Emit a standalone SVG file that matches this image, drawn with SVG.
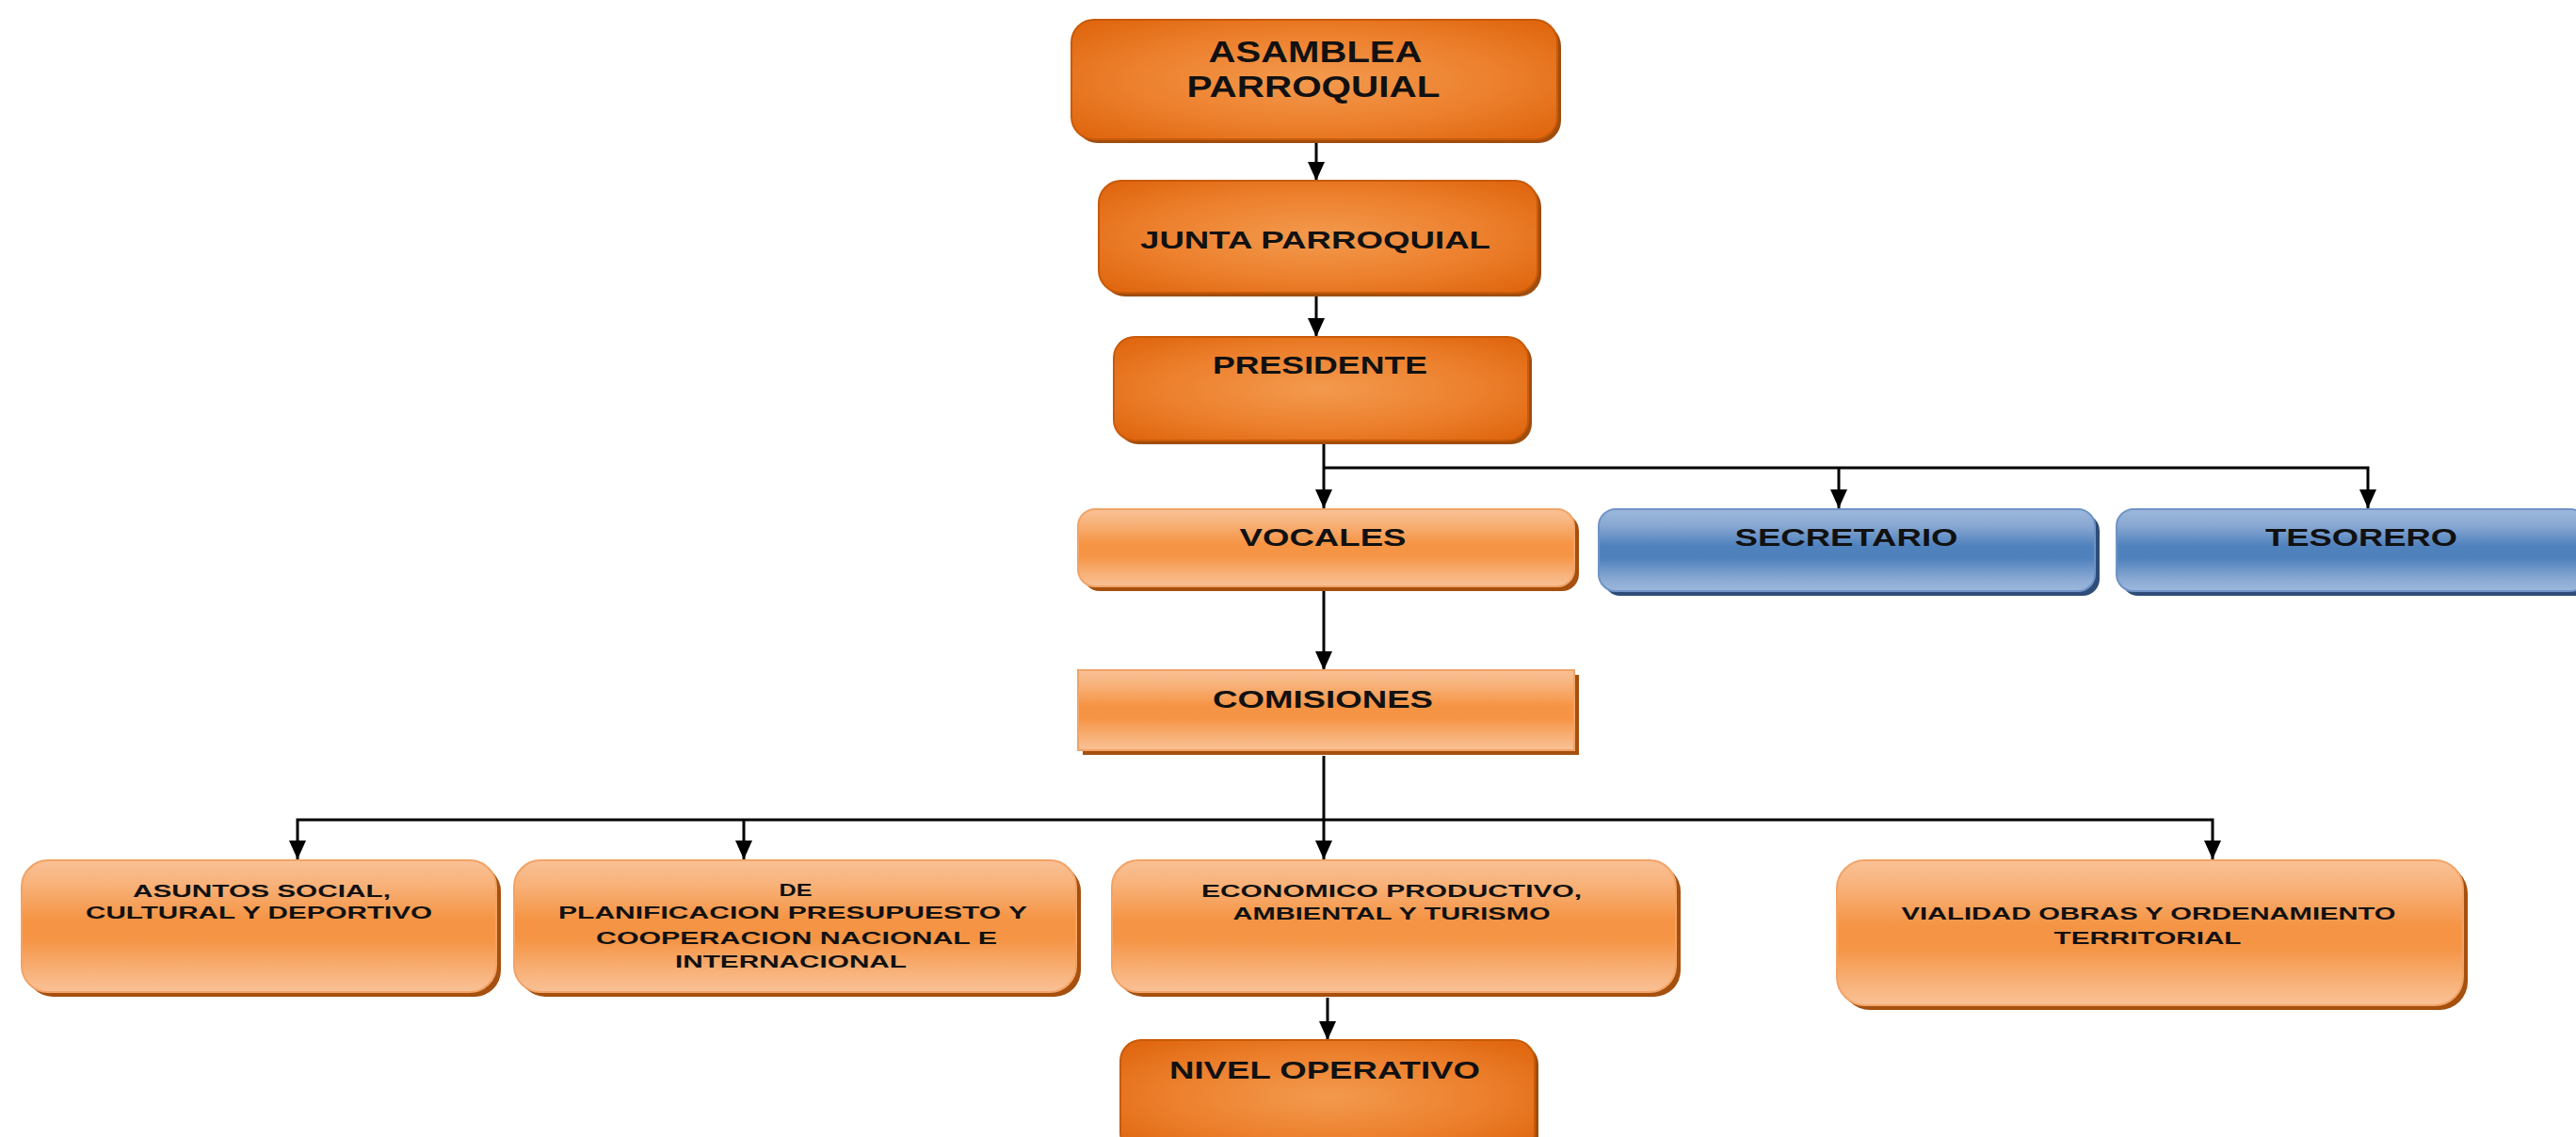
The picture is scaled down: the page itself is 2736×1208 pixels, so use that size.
<svg xmlns="http://www.w3.org/2000/svg" width="2736" height="1208" viewBox="0 0 2736 1208">
<defs>
<radialGradient id="gDark" cx="50%" cy="50%" r="65%">
<stop offset="0" stop-color="#F39A4E"/>
<stop offset="0.6" stop-color="#EC7F2C"/>
<stop offset="1" stop-color="#E06710"/>
</radialGradient>
<linearGradient id="gLight" x1="0" y1="0" x2="0" y2="1">
<stop offset="0" stop-color="#F9C196"/>
<stop offset="0.18" stop-color="#F8B27A"/>
<stop offset="0.45" stop-color="#F59444"/>
<stop offset="0.6" stop-color="#F59444"/>
<stop offset="0.85" stop-color="#F8B27A"/>
<stop offset="1" stop-color="#F9C196"/>
</linearGradient>
<linearGradient id="gBlue" x1="0" y1="0" x2="0" y2="1">
<stop offset="0" stop-color="#9DB8DB"/>
<stop offset="0.2" stop-color="#89A8D2"/>
<stop offset="0.45" stop-color="#4F81BD"/>
<stop offset="0.6" stop-color="#4F81BD"/>
<stop offset="0.85" stop-color="#89A8D2"/>
<stop offset="1" stop-color="#9DB8DB"/>
</linearGradient>
<marker id="arr" viewBox="0 0 20 18" refX="20" refY="9" markerWidth="20" markerHeight="18" markerUnits="userSpaceOnUse" orient="auto">
<path d="M0,0 L20,9 L0,18 Z" fill="#000"/>
</marker>
</defs>
<style>
.dark{fill:url(#gDark);stroke:#C85A08;stroke-width:2}
.light{fill:url(#gLight);stroke:#F2A366;stroke-width:2}
.blue{fill:url(#gBlue);stroke:#6E93C6;stroke-width:2}
.shD{fill:#A04D0E}
.shL{fill:#A5500F}
.shB{fill:#2E4C78}
text{font-family:"Liberation Sans",Arial,sans-serif;font-weight:bold;fill:#111;text-anchor:middle}
.big{font-size:32px}
.mid{font-size:25px}
.sm{font-size:19px}
.conn{fill:none;stroke:#000;stroke-width:3}
</style>
<rect width="2736" height="1208" fill="#fff"/>

<g id="connectors">
<path class="conn" d="M1398,148 V192" marker-end="url(#arr)"/>
<path class="conn" d="M1398,311 V358" marker-end="url(#arr)"/>
<path class="conn" d="M1406,470 V540" marker-end="url(#arr)"/>
<path class="conn" d="M1406,497 H2515 V540" marker-end="url(#arr)"/>
<path class="conn" d="M1953,497 V540" marker-end="url(#arr)"/>
<path class="conn" d="M1406,625 V712" marker-end="url(#arr)"/>
<path class="conn" d="M1406,803 V913" marker-end="url(#arr)"/>
<path class="conn" d="M1406,871 H2350 V913" marker-end="url(#arr)"/>
<path class="conn" d="M1406,871 H316 V913" marker-end="url(#arr)"/>
<path class="conn" d="M790,871 V913" marker-end="url(#arr)"/>
<path class="conn" d="M1410,1060 V1105" marker-end="url(#arr)"/>
</g>

<g id="asamblea">
<rect class="shD" x="1142" y="25" width="516" height="127" rx="24"/>
<rect class="dark" x="1138" y="21" width="516" height="127" rx="24"/>
<text class="big" x="1397" y="66" textLength="227" lengthAdjust="spacingAndGlyphs">ASAMBLEA</text>
<text class="big" x="1395" y="103" textLength="269" lengthAdjust="spacingAndGlyphs">PARROQUIAL</text>
</g>

<g id="junta">
<rect class="shD" x="1171" y="196" width="466" height="119" rx="24"/>
<rect class="dark" x="1167" y="192" width="466" height="119" rx="24"/>
<text class="mid" x="1397" y="264" textLength="372" lengthAdjust="spacingAndGlyphs">JUNTA PARROQUIAL</text>
</g>

<g id="presidente">
<rect class="shD" x="1187" y="362" width="440" height="110" rx="22"/>
<rect class="dark" x="1183" y="358" width="440" height="110" rx="22"/>
<text class="mid" x="1402" y="397" textLength="228" lengthAdjust="spacingAndGlyphs">PRESIDENTE</text>
</g>

<g id="vocales">
<rect class="shL" x="1150" y="546" width="527" height="82" rx="18"/>
<rect class="light" x="1145" y="541" width="527" height="82" rx="18"/>
<text class="mid" x="1405" y="580" textLength="177" lengthAdjust="spacingAndGlyphs">VOCALES</text>
</g>

<g id="secretario">
<rect class="shB" x="1703" y="546" width="527" height="87" rx="18"/>
<rect class="blue" x="1698" y="541" width="527" height="87" rx="18"/>
<text class="mid" x="1961" y="580" textLength="237" lengthAdjust="spacingAndGlyphs">SECRETARIO</text>
</g>

<g id="tesorero">
<rect class="shB" x="2253" y="546" width="500" height="87" rx="18"/>
<rect class="blue" x="2248" y="541" width="500" height="87" rx="18"/>
<text class="mid" x="2508" y="580" textLength="204" lengthAdjust="spacingAndGlyphs">TESORERO</text>
</g>

<g id="comisiones">
<rect class="shL" x="1150" y="717" width="527" height="85"/>
<rect class="light" x="1145" y="712" width="527" height="85"/>
<text class="mid" x="1405" y="752" textLength="234" lengthAdjust="spacingAndGlyphs">COMISIONES</text>
</g>

<g id="asuntos">
<rect class="shL" x="28" y="919" width="504" height="140" rx="28"/>
<rect class="light" x="23" y="914" width="504" height="140" rx="28"/>
<text class="sm" x="278" y="953" textLength="274" lengthAdjust="spacingAndGlyphs">ASUNTOS SOCIAL,</text>
<text class="sm" x="275" y="976" textLength="368" lengthAdjust="spacingAndGlyphs">CULTURAL Y DEPORTIVO</text>
</g>

<g id="planificacion">
<rect class="shL" x="551" y="919" width="597" height="140" rx="28"/>
<rect class="light" x="546" y="914" width="597" height="140" rx="28"/>
<text class="sm" x="845" y="952" textLength="35" lengthAdjust="spacingAndGlyphs">DE</text>
<text class="sm" x="842" y="976" textLength="498" lengthAdjust="spacingAndGlyphs">PLANIFICACION  PRESUPUESTO Y</text>
<text class="sm" x="846" y="1003" textLength="426" lengthAdjust="spacingAndGlyphs">COOPERACION NACIONAL  E</text>
<text class="sm" x="840" y="1028" textLength="246" lengthAdjust="spacingAndGlyphs">INTERNACIONAL</text>
</g>

<g id="economico">
<rect class="shL" x="1186" y="919" width="599" height="140" rx="28"/>
<rect class="light" x="1181" y="914" width="599" height="140" rx="28"/>
<text class="sm" x="1478" y="953" textLength="404" lengthAdjust="spacingAndGlyphs">ECONOMICO PRODUCTIVO,</text>
<text class="sm" x="1478" y="977" textLength="337" lengthAdjust="spacingAndGlyphs">AMBIENTAL Y TURISMO</text>
</g>

<g id="vialidad">
<rect class="shL" x="1956" y="919" width="665" height="154" rx="30"/>
<rect class="light" x="1951" y="914" width="665" height="154" rx="30"/>
<text class="sm" x="2282" y="977" textLength="525" lengthAdjust="spacingAndGlyphs">VIALIDAD OBRAS Y ORDENAMIENTO</text>
<text class="sm" x="2281" y="1003" textLength="199" lengthAdjust="spacingAndGlyphs">TERRITORIAL</text>
</g>

<g id="nivel">
<rect class="shD" x="1194" y="1109" width="440" height="120" rx="22"/>
<rect class="dark" x="1190" y="1105" width="440" height="120" rx="22"/>
<text class="mid" x="1407" y="1146" textLength="330" lengthAdjust="spacingAndGlyphs">NIVEL OPERATIVO</text>
</g>
</svg>
